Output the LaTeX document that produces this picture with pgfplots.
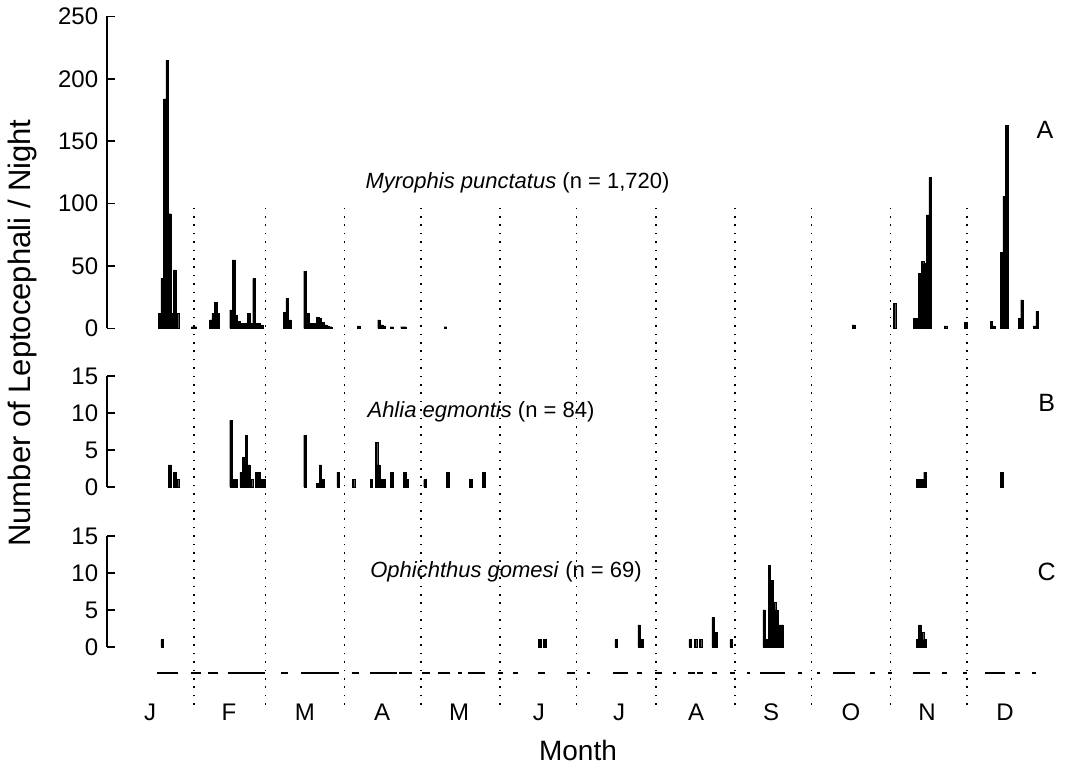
\documentclass[border=0pt]{standalone}
\usepackage{fontspec}
\setmainfont{Liberation Sans}
\usepackage{pgfplots}
\pgfplotsset{compat=1.18}
\pgfplotsset{
  panel/.style={
    scale only axis, width=470.7pt, xmin=-3, xmax=366,
    axis y line*=left,
    tick align=inside, major tick length=4pt,
    every tick/.style={black, line width=0.8pt},
    y axis line style={line width=0.8pt},
    clip=false,
    /pgf/number format/assume math mode=true,
    tick label style={font=\fontsize{12}{14}\selectfont},
    yticklabel style={xshift=-1pt},
    anchor=south west,
  },
  bars/.style={ybar, bar width=1, fill=black, draw=black, line width=0.1pt},
}
\begin{document}
\begin{tikzpicture}[x=1pt,y=1pt]
\useasboundingbox (0,0) rectangle (532.5,385.5);
% Panel A
\begin{axis}[panel, axis x line=none, xtick=\empty, at={(53.63pt,221.25pt)}, height=156pt, ymin=0, ymax=250, ytick={0,50,100,150,200,250}]
\addplot[bars] coordinates {
(17.5,12)(18.5,40)(19.5,184)(20.5,215)(21.5,92)(22.5,12)(23.5,47)(24.5,12)
(30.5,1.5)(31.5,1.5)
(37.5,7)(38.5,12)(39.5,21)(40.5,12)
(45.5,15)(46.5,55)(47.5,11)(48.5,6)(49.5,4)(50.5,4)(51.5,4)(52.5,12)(53.5,4)(54.5,40)(55.5,4)(56.5,4)(57.5,3)
(66.5,13)(67.5,24)(68.5,7)
(74.5,46)(75.5,12)(76.5,4)(77.5,4)(78.5,4)(79.5,9)(80.5,8)(81.5,5)(82.5,3)(83.5,2)(84.5,1.5)
(95.5,2)(103.5,7)(104.5,3)(105.5,2)(108.5,1.5)(112.5,1.5)(113.5,1.5)
(129.5,1.5)
(289.5,3)
(305.5,20)(313.5,8)(314.5,8)(315.5,44)(316.5,54)(317.5,52)(318.5,91)(319.5,121)(325.5,2)
(333.5,5)(343.5,6)(344.5,2)(347.5,61)(348.5,106)(349.5,163)(354.5,8)(355.5,23)(360.5,2)(361.5,14)
};
\end{axis}
% Panel B
\begin{axis}[panel, axis x line=none, xtick=\empty, at={(53.63pt,142pt)}, height=55.5pt, ymin=0, ymax=15, ytick={0,5,10,15}]
\addplot[bars] coordinates {
(21.5,3)(23.5,2)(24.5,1)
(45.5,9)(46.5,1)(47.5,1)(49.5,2)(50.5,4)(51.5,7)(52.5,3)(53.5,1)(55.5,2)(56.5,2)(57.5,1)(58.5,1)
(74.5,7)(79.5,0.5)(80.5,3)(81.5,1)(87.5,2)
(93.5,1)(100.5,1)(102.5,6)(103.5,3)(104.5,1)(105.5,1)(108.5,2)(113.5,2)(114.5,1)
(121.5,1)(130.5,2)(139.5,1)(144.5,2)
(314.5,1)(315.5,1)(316.5,1)(317.5,2)(347.5,2)
};
\end{axis}
% Panel C
\begin{axis}[panel, at={(53.63pt,62pt)}, height=55.5pt, ymin=0, ymax=15, ytick={0,5,10,15},
  axis x line*=bottom, x axis line style={draw=none}, major x tick style={draw=none},
  xtick={13.8,44.7,74.5,104.7,134.9,166.2,197.6,227.8,257.2,288.5,318.3,348.9},
  xticklabels={J,F,M,A,M,J,J,A,S,O,N,D},
  xticklabel style={anchor=center, yshift=-32.5pt},
  unbounded coords=jump]
\addplot[bars] coordinates {
(18.5,1)(166.5,1)(168.5,1)(196.5,1)(205.5,3)(206.5,1)
(225.5,1)(227.5,1)(229.5,1)(234.5,4)(235.5,2)(241.5,1)
(254.5,5)(255.5,1)(256.5,11)(257.5,9)(258.5,6)(259.5,5)(260.5,3)(261.5,3)
(314.5,1)(315.5,3)(316.5,2)(317.5,1)
};
% sampling nights
\addplot[black, line width=1.2pt] coordinates {
(16.4,-3.5)(24.8,-3.5)(24.8,nan)
(29.7,-3.5)(33.6,-3.5)(33.6,nan)
(36.6,-3.5)(40.5,-3.5)(40.5,nan)
(44.2,-3.5)(58.8,-3.5)(58.8,nan)
(65.1,-3.5)(68,-3.5)(68,nan)
(73,-3.5)(88,-3.5)(88,nan)
(92.8,-3.5)(95.8,-3.5)(95.8,nan)
(100,-3.5)(110.5,-3.5)(110.5,nan)
(111.4,-3.5)(116.3,-3.5)(116.3,nan)
(120.3,-3.5)(123.5,-3.5)(123.5,nan)
(126.5,-3.5)(131.4,-3.5)(131.4,nan)
(134.6,-3.5)(135.9,-3.5)(135.9,nan)
(138.5,-3.5)(145.1,-3.5)(145.1,nan)
(150.3,-3.5)(152.3,-3.5)(152.3,nan)
(156.2,-3.5)(158.1,-3.5)(158.1,nan)
(166,-3.5)(168.6,-3.5)(168.6,nan)
(177.1,-3.5)(180.4,-3.5)(180.4,nan)
(185,-3.5)(186.2,-3.5)(186.2,nan)
(195.1,-3.5)(201.3,-3.5)(201.3,nan)
(204.5,-3.5)(206.5,-3.5)(206.5,nan)
(211.7,-3.5)(214.3,-3.5)(214.3,nan)
(218.9,-3.5)(220.1,-3.5)(220.1,nan)
(224.8,-3.5)(227.4,-3.5)(227.4,nan)
(228,-3.5)(230.7,-3.5)(230.7,nan)
(233.9,-3.5)(235.9,-3.5)(235.9,nan)
(241.1,-3.5)(243.1,-3.5)(243.1,nan)
(247.7,-3.5)(249,-3.5)(249,nan)
(252.9,-3.5)(262.7,-3.5)(262.7,nan)
(267.9,-3.5)(269.5,-3.5)(269.5,nan)
(275.1,-3.5)(276.4,-3.5)(276.4,nan)
(281.6,-3.5)(290.1,-3.5)(290.1,nan)
(296,-3.5)(298,-3.5)(298,nan)
(303.2,-3.5)(304.5,-3.5)(304.5,nan)
(312.7,-3.5)(319.5,-3.5)(319.5,nan)
(324.1,-3.5)(326.1,-3.5)(326.1,nan)
(332.6,-3.5)(334.1,-3.5)(334.1,nan)
(341.1,-3.5)(349,-3.5)(349,nan)
(352.8,-3.5)(354.8,-3.5)(354.8,nan)
(359.4,-3.5)(361.1,-3.5)
};
% month boundaries
\addplot[black, line width=0.8pt, dash pattern=on 0.8pt off 3.4pt] coordinates {
(31,-7.8)(31,59.7)(31,nan)
(59,-7.8)(59,59.7)(59,nan)
(90,-7.8)(90,59.7)(90,nan)
(120,-7.8)(120,59.7)(120,nan)
(151,-7.8)(151,59.7)(151,nan)
(181,-7.8)(181,59.7)(181,nan)
(212,-7.8)(212,59.7)(212,nan)
(243,-7.8)(243,59.7)(243,nan)
(273,-7.8)(273,59.7)(273,nan)
(304,-7.8)(304,59.7)(304,nan)
(334,-7.8)(334,59.7)
};
\end{axis}
\node[font=\fontsize{11}{13}\selectfont] at (258.75,294) {\textit{Myrophis punctatus} (n = 1,720)};
\node[font=\fontsize{11}{13}\selectfont] at (240.5,179.5) {\textit{Ahlia egmontis} (n = 84)};
\node[font=\fontsize{11}{13}\selectfont] at (253,99.5) {\textit{Ophichthus gomesi} (n = 69)};
\node[font=\fontsize{12.5}{15}\selectfont] at (522.5,320.5) {A};
\node[font=\fontsize{12.5}{15}\selectfont] at (523.3,184) {B};
\node[font=\fontsize{12.5}{15}\selectfont] at (523.3,99.5) {C};
\node[rotate=90, font=\fontsize{15.5}{18}\selectfont] at (11,219) {Number of Leptocephali / Night};
\node[font=\fontsize{14}{17}\selectfont] at (289,10.5) {Month};
\end{tikzpicture}
\end{document}
